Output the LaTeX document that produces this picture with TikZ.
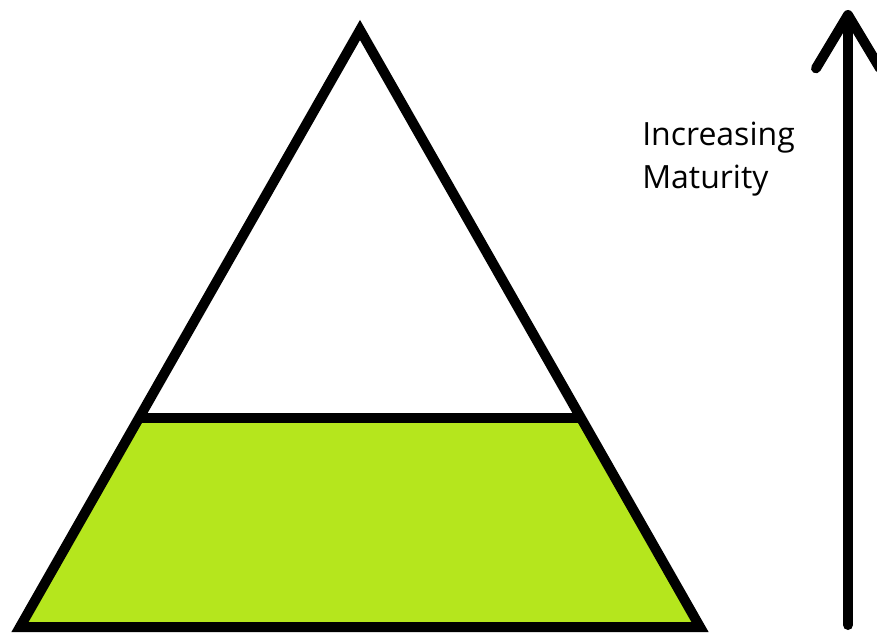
\documentclass[tikz,border=0pt]{standalone}
\usepackage{fontspec}
\setmainfont{Open Sans}
\usetikzlibrary{arrows.meta,calc}
\definecolor{paintgreen}{RGB}{181,230,29}
\tikzset{
  outline/.style={line width=7.5pt, line join=miter},
  caption/.style={anchor=base west, inner sep=0pt, font=\fontsize{24}{32}\selectfont},
}
\begin{document}
\begin{tikzpicture}[x=0.75pt, y=-0.75pt]
    \useasboundingbox (0,0) rectangle (877,635);

    % Triangle corners
    \coordinate (apex) at (360,30);
    \coordinate (baseleft) at (20,627);
    \coordinate (baseright) at (700,627);
    \coordinate (midleft) at ($(apex)!0.65!(baseleft)$);
    \coordinate (midright) at ($(apex)!0.65!(baseright)$);

    % Lower band
    \fill[paintgreen] (baseleft) -- (midleft) -- (midright) -- (baseright) -- cycle;

    % Outline and dividing line
    \draw[outline] (apex) -- (baseleft) -- (baseright) -- cycle;
    \draw[outline] (midleft) -- (midright);

    % Maturity arrow
    \coordinate (low) at (848,625);
    \coordinate (high) at (848,10);
    \draw[outline, line cap=round,
      -{Straight Barb[length=40pt, width=48pt, line join=round, line cap=round]}] (low) -- (high);

    % Labels
    \node[caption] (incr) at (642,145) {Increasing};
    \node[caption] (matur) at (642,188) {Maturity};
\end{tikzpicture}
\end{document}
